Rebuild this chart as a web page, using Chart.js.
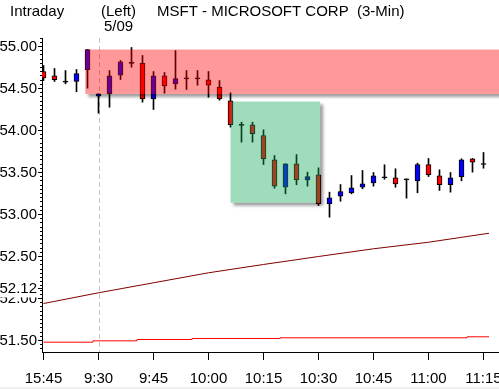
<!DOCTYPE html>
<html><head><meta charset="utf-8">
<script src="https://cdn.jsdelivr.net/npm/chart.js@4.4.0/dist/chart.umd.min.js"></script>
<style>html,body{margin:0;padding:0;background:#fff;overflow:hidden}</style>
</head><body>
<canvas id="c" width="499" height="389" style="display:block;width:499px;height:389px"></canvas>
<script>
// ---- data ----
const timeLabels = ['15:45','9:30','9:45','10:00','10:15','10:30','10:45','11:00','11:15'];
const timeTickIndex = [0,5,10,15,20,25,30,35,40];
const opens  = [54.702,54.651,54.588,54.583,54.723,54.408,54.437,54.658,54.812,54.801,54.377,54.651,54.556,54.626,54.626,54.604,54.516,54.354,54.072,54.068,53.940,53.651,53.325,53.604,53.413,53.473,53.127,53.218,53.258,53.325,53.377,53.449,53.437,53.425,53.401,53.595,53.461,53.354,53.449,53.663,53.607];
const highs  = [54.774,54.738,54.714,54.726,54.964,54.437,54.714,54.833,54.988,54.893,54.702,54.690,54.952,54.714,54.714,54.702,54.595,54.449,54.099,54.099,54.008,53.702,53.604,53.714,53.504,53.556,53.266,53.357,53.464,53.524,53.500,53.592,53.544,53.425,53.611,53.667,53.532,53.500,53.663,53.667,53.738];
const lows   = [54.595,54.583,54.556,54.461,54.504,54.206,54.277,54.607,54.754,54.337,54.250,54.444,54.492,54.488,54.539,54.396,54.361,54.040,53.861,53.861,53.595,53.313,53.246,53.354,53.337,53.107,52.968,53.158,53.246,53.306,53.337,53.420,53.325,53.194,53.258,53.452,53.286,53.266,53.401,53.504,53.551];
const closes = [54.625,54.604,54.576,54.679,54.964,54.437,54.651,54.818,54.800,54.377,54.651,54.532,54.619,54.614,54.614,54.539,54.377,54.068,54.060,53.961,53.663,53.337,53.604,53.413,53.452,53.127,53.199,53.274,53.318,53.365,53.461,53.437,53.365,53.413,53.595,53.473,53.354,53.437,53.651,53.623,53.595];
const slowAvgX = [0,5,10,15,20,25,30,35,40.5];
const slowAvgY = [51.940,52.068,52.187,52.306,52.405,52.500,52.592,52.670,52.777];
const dailyAvgX = [0,4.5,8.5,13.5,21.5,38.5,40.5];
const dailyAvgY = [51.480,51.496,51.512,51.524,51.532,51.544,51.544];
const priceTicks = [51.5,52.0,52.5,53.0,53.5,54.0,54.5,55.0];
const lastPrice = 52.12;
const resistanceZone = [3.8, null, 54.435, 54.964];   // fromIndex, toIndex(open), low, high
const supportZone    = [17, 25.15, 53.140, 54.345];
const sessionStartIndex = 5;

// ---- layout ----
const X_MIN = -1.5/11, X_MAX = X_MIN + 457/11;
const Y_MAX = 55 + 8.5/84, Y_MIN = 55 - 305.5/84;
const FONT = '"Liberation Sans", Arial, sans-serif';

const idx = opens.map((_, i) => i);
const bodyColor = idx.map(i => closes[i] - opens[i] > 0.013 ? '#0000ff' : (opens[i] - closes[i] > 0.013 ? '#ff0000' : '#000000'));

const overlayPlugin = {
  id: 'overlay',
  beforeDraw(chart) {
    const ctx = chart.ctx;
    ctx.save();
    ctx.fillStyle = '#ffffff';
    ctx.fillRect(0, 0, chart.width, chart.height);
    ctx.fillStyle = '#eeeeee';
    ctx.fillRect(0, 387, chart.width, 2);
    ctx.restore();
  },
  beforeDatasetsDraw(chart) {
    const ctx = chart.ctx, a = chart.chartArea, xs = chart.scales.x;
    const x = Math.round(xs.getPixelForValue(sessionStartIndex)) + 0.5;
    ctx.save();
    ctx.strokeStyle = '#c4c4c4';
    ctx.lineWidth = 1;
    ctx.setLineDash([5, 3]);
    ctx.beginPath(); ctx.moveTo(x, a.top); ctx.lineTo(x, a.bottom); ctx.stroke();
    ctx.restore();
  },
  afterDatasetsDraw(chart) {
    const ctx = chart.ctx, a = chart.chartArea, xs = chart.scales.x, ys = chart.scales.y;
    ctx.save();
    ctx.beginPath(); ctx.rect(a.left + 1, a.top, a.right - a.left, a.bottom - a.top); ctx.clip();
    const zone = (z, color) => {
      const L = xs.getPixelForValue(z[0]);
      const R = z[1] == null ? a.right + 20 : xs.getPixelForValue(z[1]);
      const T = ys.getPixelForValue(z[3]), B = ys.getPixelForValue(z[2]);
      ctx.save();
      ctx.beginPath();
      ctx.rect(0, 0, chart.width, chart.height);
      ctx.rect(L, T, R - L, B - T);
      ctx.clip('evenodd');
      ctx.filter = 'blur(1.5px)';
      ctx.fillStyle = 'rgba(0,0,0,0.38)';
      ctx.fillRect(L + 3, T + 3, R - L, B - T);
      ctx.restore();
      ctx.save();
      ctx.filter = 'blur(0.6px)';
      ctx.fillStyle = color;
      ctx.fillRect(L, T, R - L, B - T);
      ctx.restore();
    };
    zone(resistanceZone, 'rgba(255,0,0,0.4)');
    zone(supportZone, 'rgba(12,167,87,0.4)');
    ctx.restore();
  },
  afterDraw(chart) {
    const ctx = chart.ctx, a = chart.chartArea, ys = chart.scales.y;
    ctx.save();
    ctx.strokeStyle = '#000';
    ctx.lineWidth = 1;
    ctx.beginPath();
    for (let k = 0; k <= 80; k++) {
      const v = 51.35 + k * 0.05;
      const p = ys.getPixelForValue(v);
      if (p < a.top - 0.5 || p > a.bottom + 0.5) continue;
      const y = Math.round(p - 0.5) + 0.5;
      const major = Math.abs(Math.round(v * 2) - v * 2) < 1e-6;
      ctx.moveTo(major ? 38 : 40, y); ctx.lineTo(a.left, y);
    }
    const yl = Math.round(ys.getPixelForValue(lastPrice) - 0.5) + 0.5;
    ctx.moveTo(38, yl); ctx.lineTo(a.left, yl);
    ctx.stroke();
    ctx.fillStyle = '#000';
    ctx.font = '15px ' + FONT;
    ctx.textBaseline = 'alphabetic';
    ctx.fillText('Intraday', 10, 15.5);
    ctx.fillText('(Left)', 101, 15.5);
    ctx.fillText('5/09', 104, 31);
    ctx.fillText('MSFT - MICROSOFT CORP  (3-Min)', 157, 15.5, 249);
    ctx.restore();
  }
};

new Chart(document.getElementById('c'), {
  type: 'bar',
  data: {
    datasets: [
      { type: 'line', data: slowAvgX.map((x, k) => ({ x, y: slowAvgY[k] })), borderColor: '#800000', borderWidth: 1, pointRadius: 0, fill: false, tension: 0, order: 4 },
      { type: 'line', data: dailyAvgX.map((x, k) => ({ x, y: dailyAvgY[k] })), borderColor: '#ff0000', borderWidth: 1, pointRadius: 0, fill: false, stepped: 'before', order: 3 },
      { type: 'bar', data: idx.map(i => ({ x: i, y: [lows[i], highs[i]] })), backgroundColor: '#000000', borderWidth: 0, barThickness: 1, grouped: false, order: 2 },
      { type: 'bar', data: idx.map(i => ({ x: i, y: [Math.min(opens[i], closes[i]), Math.max(opens[i], closes[i])] })), backgroundColor: bodyColor, borderColor: '#000000', borderWidth: 1, borderSkipped: false, barThickness: 5, grouped: false, order: 1 }
    ]
  },
  options: {
    responsive: false,
    animation: false,
    devicePixelRatio: 1,
    layout: { padding: { top: 38, left: 0, right: 0, bottom: 0 } },
    plugins: { legend: { display: false }, tooltip: { enabled: false } },
    scales: {
      x: {
        type: 'linear', min: X_MIN, max: X_MAX, offset: false,
        afterBuildTicks: s => { s.ticks = timeTickIndex.map(v => ({ value: v })); },
        afterFit: s => { s.height = 37; s.paddingLeft = 0; s.paddingRight = 0; },
        ticks: { callback: (v, i) => timeLabels[i], autoSkip: false, maxRotation: 0, padding: 10, color: '#000', font: { size: 15, family: FONT } },
        grid: { display: true, drawOnChartArea: false, drawTicks: true, tickLength: 8, color: '#000', offset: false },
        border: { display: true, color: '#000', width: 1 }
      },
      y: {
        type: 'linear', min: Y_MIN, max: Y_MAX, beginAtZero: false,
        afterBuildTicks: s => { s.ticks = priceTicks.concat([lastPrice]).map(v => ({ value: v })); },
        afterFit: s => { s.width = 42; s.paddingTop = 0; s.paddingBottom = 0; },
        ticks: {
          callback: v => v.toFixed(2), autoSkip: false, padding: 5, color: '#000', font: { size: 15, family: FONT },
          showLabelBackdrop: c => !!(c.tick && c.tick.value === lastPrice), backdropColor: '#ffffff', backdropPadding: { top: 0, bottom: 0, left: 1, right: 1 }
        },
        grid: { display: false, drawTicks: false },
        border: { display: true, color: '#000', width: 1 }
      }
    }
  },
  plugins: [overlayPlugin]
});
</script>
</body></html>
